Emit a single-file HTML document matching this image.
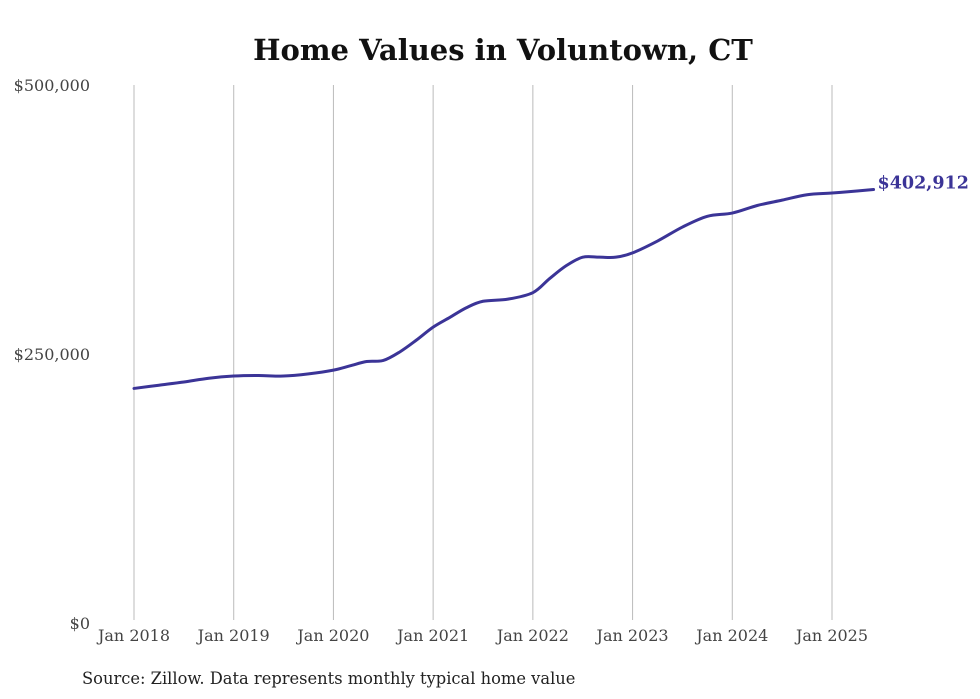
<!DOCTYPE html>
<html><head><meta charset="utf-8"><style>
body{margin:0;background:#fff;width:980px;height:699px;overflow:hidden}
svg{display:block}
text{font-family:"DejaVu Serif","Liberation Serif",serif}
</style></head><body>
<svg id="chart" width="980" height="699" viewBox="0 0 980 699">
<text x="503" y="60" text-anchor="middle" font-size="29" font-weight="bold" fill="#111">Home Values in Voluntown, CT</text>
<g id="grid"></g><g id="yaxis"></g><g id="xaxis"></g><g id="series"></g>
<text x="82" y="684" font-size="16.3" fill="#222">Source: Zillow. Data represents monthly typical home value</text>
</svg>
<script>
const months=[0,3,6,9,12,15,18,21,24,26,28,30,32,34,36,38,40,42,45,48,50,52,54,56,58,60,63,66,69,72,75,78,81,84,87,89];
const values=[218,221,224,227.5,229.5,230,229.5,231.5,235,239,243,244,252,263,275,284,293,299,301,307,320,332,340,340,340,344,355,368,378,381,388,393,398,399.6,401.5,402.912];
const yTicks=[0,250,500];
const yTickLabels=["$0","$250,000","$500,000"];
const xTickMonths=[0,12,24,36,48,60,72,84];
const xTickLabels=["Jan 2018","Jan 2019","Jan 2020","Jan 2021","Jan 2022","Jan 2023","Jan 2024","Jan 2025"];
const endLabel="$402,912";
const NS="http://www.w3.org/2000/svg";
const x=m=>134+m*(698/84);
const y=v=>623-v*(538/500);
function mk(tag,attrs,parent,txt){const e=document.createElementNS(NS,tag);for(const k in attrs)e.setAttribute(k,attrs[k]);if(txt!==undefined)e.textContent=txt;parent.appendChild(e);return e;}
const grid=document.getElementById('grid'),ya=document.getElementById('yaxis'),xa=document.getElementById('xaxis'),se=document.getElementById('series');
xTickMonths.forEach((m,i)=>{
 const l=mk('line',{x1:x(m),x2:x(m),y1:85,y2:620,stroke:'#bbb','stroke-width':1},grid);
 
 
 const t=mk('text',{x:x(m),y:641,'text-anchor':'middle','font-size':16,fill:'#444'},xa,xTickLabels[i]);
 
 
});
yTicks.forEach((v,i)=>{
 const t=mk('text',{x:90,y:y(v)+6,'text-anchor':'end','font-size':16,fill:'#444'},ya,yTickLabels[i]);
 
 
});
const pts=months.map((m,i)=>[x(m),y(values[i])]);
let d='M'+pts[0][0]+','+pts[0][1];
for(let i=0;i<pts.length-1;i++){
 const p0=pts[i-1]||pts[i],p1=pts[i],p2=pts[i+1],p3=pts[i+2]||p2;
 const c1=[p1[0]+(p2[0]-p0[0])/6,p1[1]+(p2[1]-p0[1])/6],c2=[p2[0]-(p3[0]-p1[0])/6,p2[1]-(p3[1]-p1[1])/6];
 d+=` C${c1[0]},${c1[1]} ${c2[0]},${c2[1]} ${p2[0]},${p2[1]}`;
}
const path=mk('path',{d:d,fill:'none',stroke:'#3b3497','stroke-width':3,'stroke-linejoin':'round','stroke-linecap':'round'},se);


const last=pts[pts.length-1];
const lab=mk('text',{x:last[0]+4,y:last[1]-1,'font-size':17.5,'font-weight':'bold',fill:'#3b3497'},se,endLabel);


</script>
</body></html>
